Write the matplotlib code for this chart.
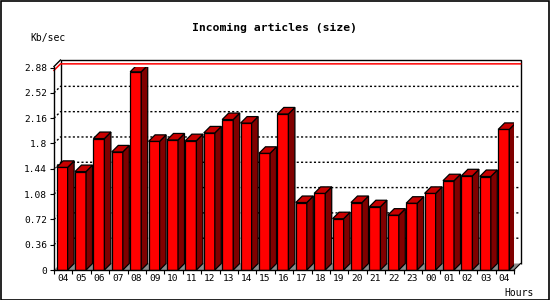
import matplotlib.pyplot as plt
from matplotlib.patches import Polygon, Rectangle

hours = ["04", "05", "06", "07", "08", "09", "10", "11", "12", "13", "14", "15", "16",
         "17", "18", "19", "20", "21", "22", "23", "00", "01", "02", "03", "04"]
kbsec = [1.46, 1.40, 1.87, 1.68, 2.82, 1.83, 1.85, 1.84, 1.95, 2.14, 2.09, 1.66, 2.22,
         0.96, 1.09, 0.73, 0.96, 0.90, 0.78, 0.95, 1.09, 1.27, 1.34, 1.33, 2.00]
yticks = [0, 0.36, 0.72, 1.08, 1.44, 1.8, 2.16, 2.52, 2.88]
ytick_labels = ["0", "0.36", "0.72", "1.08", "1.44", "1.8", "2.16", "2.52", "2.88"]
red_line = 2.84

plt.rcParams['font.family'] = ['DejaVu Sans Mono']

W, H = 550, 300
fig = plt.figure(figsize=(5.5, 3), dpi=100)
fig.patches.append(Rectangle((0.5 / W, 0.5 / H), 1 - 1.5 / W, 1 - 1.5 / H, transform=fig.transFigure,
                             fill=False, edgecolor="black", linewidth=1.2))

# front plot area in pixels
left, right, bottom, top = 54, 514, 270, 66.5
ax = fig.add_axes([left / W, 1 - bottom / H, (right - left) / W, (bottom - top) / H])
n = len(kbsec)
ymax = 2.895
ax.set_xlim(0, n)
ax.set_ylim(0, ymax)

depth = 6.5
dx = depth / ((right - left) / n)
dy = depth / ((bottom - top) / ymax)

# back wall and floor
ax.add_patch(Polygon([(dx, dy), (dx, ymax + dy), (n + dx, ymax + dy), (n + dx, dy)],
                     closed=False, fill=False, edgecolor="black", linewidth=1, clip_on=False, zorder=1))
ax.plot([0, dx], [ymax, ymax + dy], color="black", lw=1, clip_on=False, zorder=1)
ax.add_patch(Polygon([(0, 0), (n, 0), (n + dx, dy), (dx, dy)], facecolor="#8c8c8c",
                     edgecolor="none", clip_on=False, zorder=1))
ax.plot([n, n + dx], [0, dy], color="black", lw=0.8, clip_on=False, zorder=1)

# grid on back wall
for v in yticks[1:-1]:
    ax.plot([0, dx, n + dx], [v, v + dy, v + dy], color="black", lw=1,
            linestyle=(0, (1.5, 1.6)), clip_on=False, zorder=1.5)
ax.plot([0, dx, n + dx], [red_line, red_line + dy, red_line + dy], color="red", lw=1.1,
        clip_on=False, zorder=1.5)

# 3d bars
x0, bw = 0.14, 0.6
for i, v in enumerate(kbsec):
    a, b = i + x0, i + x0 + bw
    ax.add_patch(Polygon([(a, 0), (b, 0), (b, v), (a, v)], facecolor="#ff0000",
                         edgecolor="black", lw=0.9, zorder=3))
    ax.add_patch(Polygon([(b, 0), (b + dx, dy), (b + dx, v + dy), (b, v)], facecolor="#800000",
                         edgecolor="black", lw=0.9, zorder=3))
    ax.add_patch(Polygon([(a, v), (b, v), (b + dx, v + dy), (a + dx, v + dy)], facecolor="#c80000",
                         edgecolor="black", lw=0.9, zorder=3))

for s in ["top", "right"]:
    ax.spines[s].set_visible(False)
for s in ["left", "bottom"]:
    ax.spines[s].set_linewidth(1)
    ax.spines[s].set_zorder(4)

ax.set_yticks(yticks)
ax.set_yticklabels(ytick_labels)
ax.tick_params(axis="y", length=3, width=0.8, pad=2, labelsize=6.8)
ax.set_xticks(range(n + 1))
ax.set_xticklabels([])
ax.set_xticks([i + 0.47 for i in range(n)], minor=True)
ax.set_xticklabels(hours, minor=True)
ax.tick_params(axis="x", which="major", length=3, width=0.8)
ax.tick_params(axis="x", which="minor", length=0, pad=3, labelsize=6.8)

fig.text(274 / W, 1 - 28 / H, "Incoming articles (size)", ha="center", va="center",
         fontsize=8.2, fontweight="bold")
fig.text(30 / W, 1 - 38.5 / H, "Kb/sec", ha="left", va="center", fontsize=7)
fig.text(534 / W, 1 - 292.5 / H, "Hours", ha="right", va="center", fontsize=7)

fig.savefig("out.png", dpi=100)
